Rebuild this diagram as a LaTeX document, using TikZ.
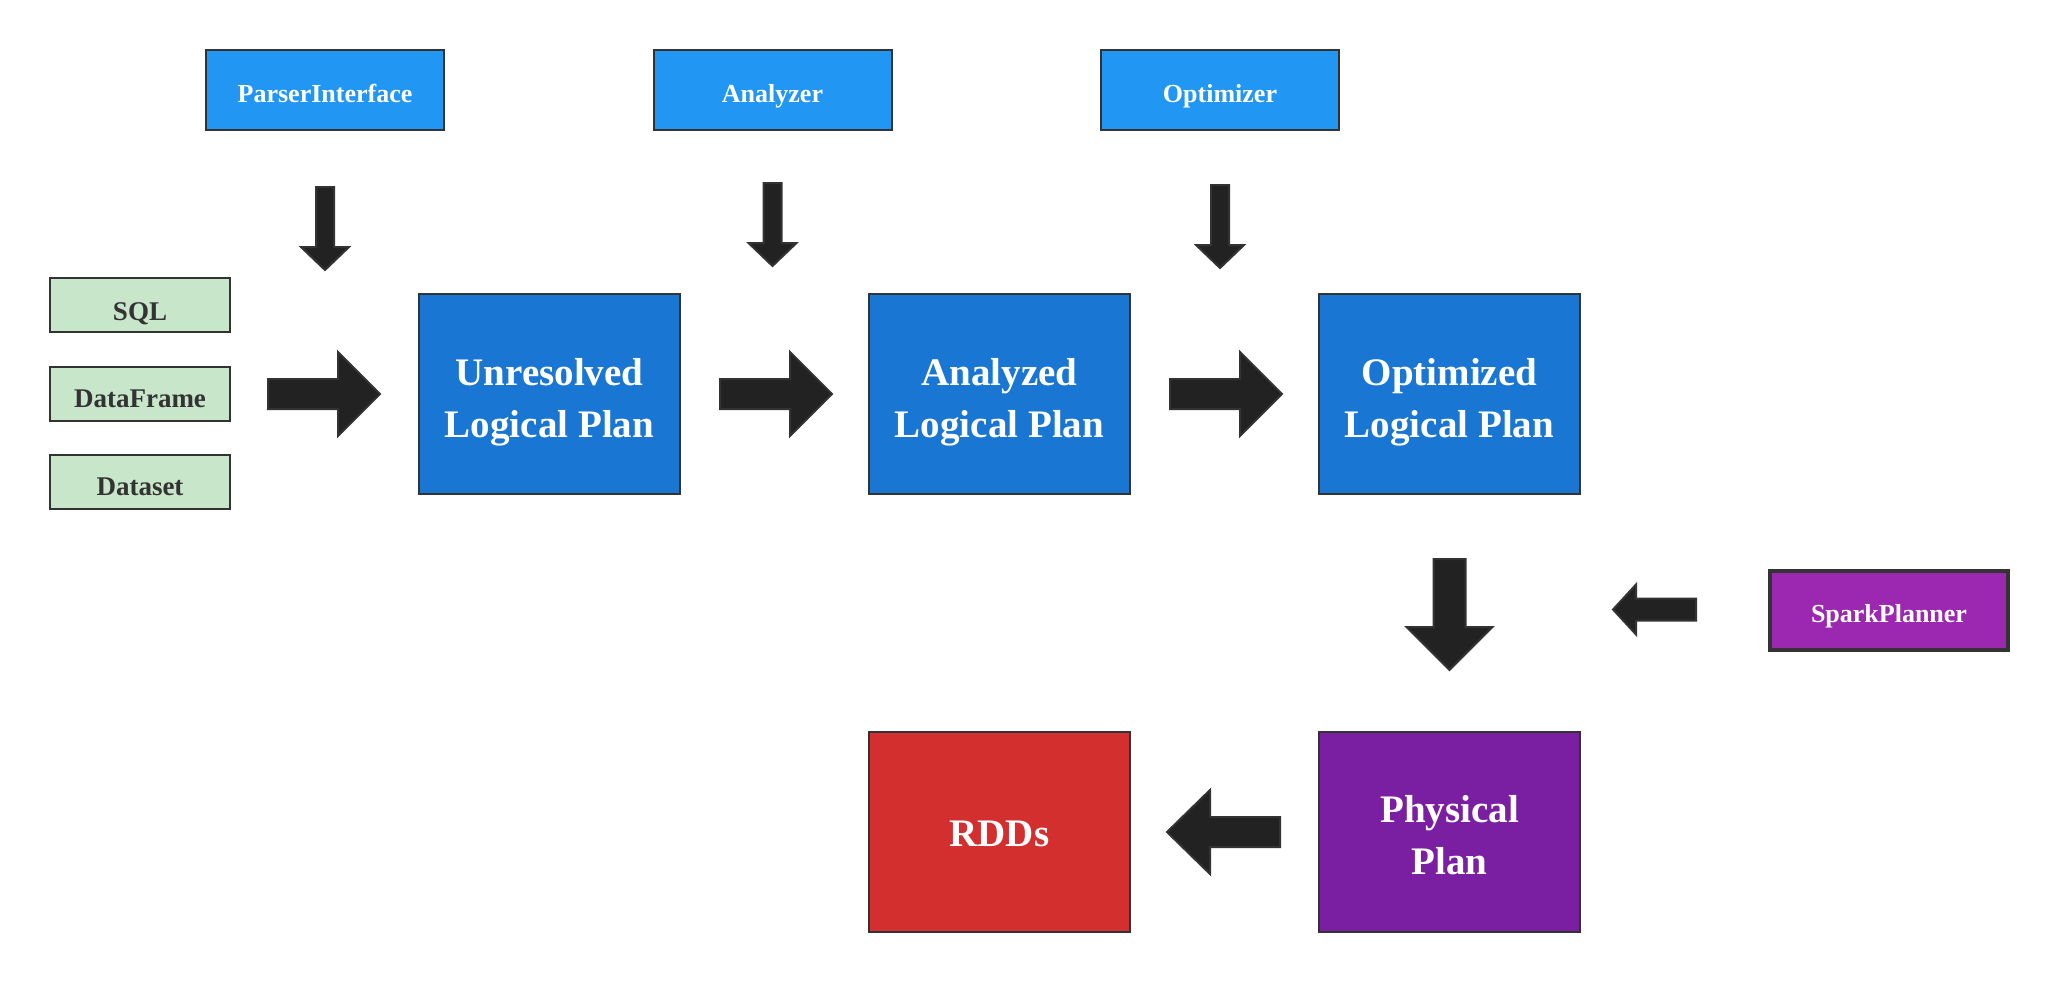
\documentclass[tikz,border=0pt]{standalone}
\usepackage{fontspec}
\setmainfont{Liberation Serif}
\usetikzlibrary{calc}
\definecolor{topblue}{HTML}{2196F3}
\definecolor{planblue}{HTML}{1976D2}
\definecolor{ingreen}{HTML}{C8E6C9}
\definecolor{physpurple}{HTML}{7B1FA2}
\definecolor{spurple}{HTML}{9C27B0}
\definecolor{rddred}{HTML}{D32F2F}
\definecolor{edgec}{HTML}{333333}
\definecolor{arrfill}{HTML}{222222}
\newcommand\barrow[6]{\begin{scope}[shift={#1}, rotate=#2]
 \draw[blk] (0,-#4) -- ({#3-#6},-#4) -- ({#3-#6},-#5) -- (#3,0) -- ({#3-#6},#5) -- ({#3-#6},#4) -- (0,#4) -- cycle;
\end{scope}}
\begin{document}
\begin{tikzpicture}[x=1pt,y=-1pt,
 box/.style={draw=edgec, line width=2pt, inner sep=0pt, align=center},
 toptext/.style={text=white, font=\fontsize{26}{30}\selectfont\bfseries, yshift=-3pt},
 intext/.style={text=edgec, font=\fontsize{27}{30}\selectfont\bfseries, yshift=-5pt},
 plantext/.style={text=white, align=center, font=\fontsize{39}{52}\selectfont\bfseries, yshift=-8pt},
 topbox/.style={box, fill=topblue, minimum width=238pt, minimum height=80pt},
 inbox/.style={box, fill=ingreen, minimum width=180pt, minimum height=54pt},
 planbox/.style={box, minimum width=261pt, minimum height=200pt},
 blk/.style={fill=arrfill, draw=edgec, line width=2pt, line join=miter}]
\useasboundingbox[fill=white] (0,0) rectangle (2058,983);

\node[topbox, label={[toptext]center:ParserInterface}] (parser) at (325,90) {};
\node[topbox, label={[toptext, yshift=-3pt]center:Analyzer}] (analyzer) at (772.5,90) {};
\node[topbox, label={[toptext, yshift=-3pt]center:Optimizer}] (optimizer) at (1220,90) {};

\node[inbox, label={[intext, yshift=-4pt]center:SQL}] (sql) at (140,305) {};
\node[inbox, label={[intext]center:DataFrame}] (df) at (140,394) {};
\node[inbox, label={[intext]center:Dataset}] (ds) at (140,482) {};

\node[planbox, fill=planblue, label={[plantext]center:{Unresolved\\Logical Plan}}] (unres) at (549.5,394) {};
\node[planbox, fill=planblue, label={[plantext]center:{Analyzed\\Logical Plan}}] (analyzed) at (999.5,394) {};
\node[planbox, fill=planblue, label={[plantext]center:{Optimized\\Logical Plan}}] (optimized) at (1449.5,394) {};
\node[planbox, fill=physpurple, label={[plantext, yshift=5pt]center:{Physical\\Plan}}] (physical) at (1449.5,832) {};
\node[planbox, fill=rddred, label={[plantext, yshift=6pt]center:RDDs}] (rdds) at (999.5,832) {};

\node[box, line width=4pt, fill=spurple, minimum width=238pt, minimum height=79pt, label={[toptext, yshift=-3pt]center:SparkPlanner}] (spark) at (1889,610.5) {};

% small down arrows
\barrow{($(parser.south)+(0,56)$)}{-90}{83}{9}{24}{23}
\barrow{($(analyzer.south)+(0,52)$)}{-90}{83}{9}{24}{23}
\barrow{($(optimizer.south)+(0,54)$)}{-90}{83}{9}{24}{23}
% big right arrows
\barrow{($(unres.west)+(-150,0)$)}{0}{112}{15}{42}{42}
\barrow{($(unres.east)+(39,0)$)}{0}{112}{15}{42}{42}
\barrow{($(analyzed.east)+(39,0)$)}{0}{112}{15}{42}{42}
% big down arrow
\barrow{($(optimized.south)+(0,64)$)}{-90}{111}{16}{43}{43}
% small left arrow
\barrow{($(spark.west)+(-72,-1)$)}{180}{83}{11}{25}{23}
% big left arrow
\barrow{($(physical.west)+(-38,0)$)}{180}{113}{15}{42}{43}
\end{tikzpicture}
\end{document}
